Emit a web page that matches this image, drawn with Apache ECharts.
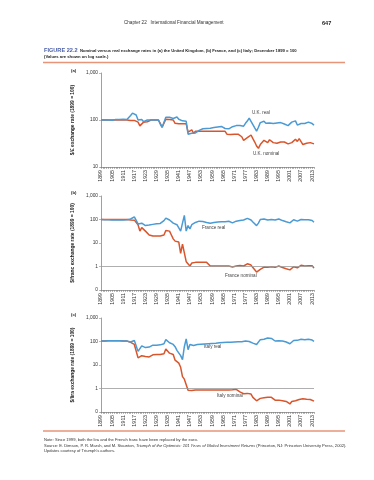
<!DOCTYPE html>
<html><head><meta charset="utf-8">
<script src="https://cdn.jsdelivr.net/npm/echarts@6/dist/echarts.min.js"></script>
<style>html,body{margin:0;padding:0;background:#fff}#c{width:374px;height:480px}</style>
</head><body><div id="c"></div>
<script>
// Years 1899..2014 (categories)
const years = [];
for (let y = 1899; y <= 2014; y++) years.push(String(y));

// (a) United Kingdom, $/£ (1899 = 100)
const ukReal = [100,
  102,101,100,100,101,99,101,103,102,103,
  102,104,103,102,104,125,140,138,128,100,
  98,102,92,98,100,100,100,100,100,100,
  100,82,70,72,115,112,114,112,108,110,
  116,104,98,96,95,94,50,46,52,48,
  53,56,60,62,65,66,66,67,67,68,
  69,70,71,72,73,74,66,64,65,70,
  72,73,76,74,76,80,74,85,95,110,
  105,80,68,58,70,88,82,94,85,80,
  86,86,84,90,86,86,88,87,82,80,
  76,80,90,84,96,78,82,84,86,84,
  86,90,88,84,78];
const ukNominal = [100,
  100,100,100,100,100,100,100,100,100,100,
  100,100,100,100,100,98,98,98,98,90,
  75,80,90,96,92,100,100,100,100,100,
  100,85,70,72,104,101,102,102,100,85,
  83,83,83,83,83,83,55,50,62,52,
  57.5,57.5,57.5,57.5,57.5,57.5,57.5,57.5,57.5,57.5,
  57.5,57.5,57.5,57.5,57.5,57.5,57.5,50,49,49,
  48,50,51,50,48,44,37,38,42,46,
  48,40,34,28,25,30,31,37,34,33,
  38,37,33,31,32,33,34,34,34,33,
  31,30,33,36,39,35,40,41,30,32,
  32,33,33,33,31];

// (b) France, $/franc (1899 = 100)
const franceReal = [100,
  99,98,97,97,96,96,95,95,95,96,
  96,96,97,97,98,105,118,130,120,65,
  55,70,62,55,48,58,60,62,64,66,
  67,68,70,90,115,105,95,80,70,62,
  60,55,32,70,150,32,55,40,60,70,
  75,82,85,84,82,80,75,68,70,72,
  74,76,78,80,80,82,80,82,84,70,
  72,76,85,95,90,100,95,105,112,100,
  95,78,65,55,70,100,95,105,90,95,
  108,100,110,95,100,105,102,90,88,80,
  68,72,85,98,92,85,92,100,105,98,
  100,98,100,90,76];
const franceNominal = [100,
  100,100,100,100,100,100,100,100,100,100,
  100,100,100,100,100,96,94,94,92,60,
  32,45,40,32,28,22,20,20,20,20,
  20,20,20,22,34,36,32,22,15,12,
  12,11,3.6,9,10,1.6,1.8,1.05,1.4,1.45,
  1.5,1.5,1.5,1.5,1.5,1.5,1.5,1.45,1.05,1.05,
  1.05,1.05,1.05,1.05,1.05,1.05,1.05,1.05,1.05,0.95,
  0.95,1.0,1.05,1.15,1.1,1.2,1.05,1.2,1.3,1.2,
  1.15,0.9,0.75,0.58,0.62,0.75,0.85,0.95,0.9,0.92,
  1.0,0.98,1.05,0.92,0.95,1.05,1.0,0.9,0.88,0.8,
  0.7,0.72,0.85,0.98,0.92,0.88,1.0,1.12,1.15,1.05,
  1.1,1.08,1.05,1.08,0.85];

// (c) Italy, $/lira (1899 = 100)
const italyReal = [105,
  106,106,107,107,108,107,107,108,108,107,
  107,106,106,104,100,95,98,110,132,38,
  45,65,60,55,55,58,62,70,70,70,
  72,72,75,80,120,110,88,95,75,60,
  42,35,25,17,60,130,45,75,65,68,
  72,74,75,76,77,78,79,80,81,82,
  83,84,86,88,90,90,90,92,93,94,
  95,96,98,97,90,98,95,105,110,100,
  95,85,80,75,90,120,115,125,130,140,
  145,135,115,105,110,108,115,105,102,95,
  85,80,95,110,105,112,120,125,122,118,
  120,125,120,115,102];
const italyNominal = [105,
  106,106,107,107,108,107,107,108,108,107,
  107,106,106,104,100,92,85,75,90,20,
  22,25,24,23,22,22,24,27,28,28,
  28,28,28,30,48,45,32,30,28,16,
  14,12,8,3.2,2.5,2.5,0.85,0.9,0.82,0.85,
  0.87,0.87,0.87,0.87,0.87,0.87,0.87,0.87,0.87,0.87,
  0.87,0.87,0.87,0.87,0.87,0.87,0.87,0.87,0.87,0.87,
  0.88,0.9,0.92,0.85,0.72,0.7,0.6,0.62,0.62,0.6,
  0.58,0.42,0.35,0.3,0.3,0.38,0.42,0.4,0.44,0.42,
  0.46,0.42,0.35,0.32,0.33,0.32,0.34,0.3,0.3,0.28,
  0.24,0.22,0.28,0.32,0.3,0.33,0.34,0.36,0.37,0.34,
  0.35,0.36,0.34,0.33,0.29];

// Y tick labels by decade exponent
const yTickLabels = {'-1': '0', '0': '1', '1': '10', '2': '100', '3': '1,000'};
const yNames = ['$/£ exchange rate (1899 = 100)', '$/franc exchange rate (1899 = 100)', '$/lira exchange rate (1899 = 100)'];
const seriesNames = ['U.K. real','U.K. nominal','France real','France nominal','Italy real','Italy nominal'];

const BLUE = '#4a9ad4', RED = '#d9552c';
const tops = [73, 196, 318];
const FONT = 'Liberation Sans, Arial, sans-serif';

const chart = echarts.init(document.getElementById('c'), null, {renderer: 'canvas'});

const grids = tops.map(t => ({left: 101, top: t, width: 213, height: 94}));
const xAxes = tops.map((t, i) => ({
  type: 'category', gridIndex: i, data: years, boundaryGap: false,
  axisLine: {lineStyle: {color: '#777', width: 0.7}},
  axisTick: {interval: 0, length: 2, lineStyle: {color: '#777', width: 0.5}},
  axisLabel: {interval: 5, rotate: 90, fontSize: 5.3, color: '#333', margin: 3, fontFamily: FONT}
}));
const yAxes = tops.map((t, i) => ({
  type: 'log', logBase: 10, gridIndex: i,
  min: i === 0 ? 10 : 0.1, max: 1000, splitNumber: i === 0 ? 2 : 4,
  name: yNames[i], nameLocation: 'middle', nameGap: 16, nameRotate: 90,
  nameTextStyle: {fontSize: 4.9, fontWeight: 'bold', color: '#222', fontFamily: FONT},
  axisLine: {show: true, lineStyle: {color: '#777', width: 0.7}},
  axisTick: {show: true, length: 2, lineStyle: {color: '#777', width: 0.5}},
  splitLine: {show: false},
  minorTick: {show: false},
  axisLabel: {fontSize: 4.8, color: '#333', margin: 3, fontFamily: FONT,
    formatter: v => yTickLabels[String(Math.round(Math.log10(v)))] || ''}
}));

const ref1 = {silent: true, symbol: 'none', label: {show: false},
  lineStyle: {color: '#9a9a9a', width: 0.8, type: 'solid'}, data: [{yAxis: 1}]};

function line(name, data, idx, color, withRef) {
  const s = {type: 'line', name, data, xAxisIndex: idx, yAxisIndex: idx,
    showSymbol: false, symbol: 'none', lineStyle: {color, width: 1.5}, itemStyle: {color}, z: color === BLUE ? 3 : 2};
  if (withRef) s.markLine = ref1;
  return s;
}

const series = [
  line(seriesNames[1], ukNominal, 0, RED, false),
  line(seriesNames[0], ukReal, 0, BLUE, false),
  line(seriesNames[3], franceNominal, 1, RED, true),
  line(seriesNames[2], franceReal, 1, BLUE, false),
  line(seriesNames[5], italyNominal, 2, RED, true),
  line(seriesNames[4], italyReal, 2, BLUE, false)
];

function txt(x, y, text, size, opts) {
  return {type: 'text', x, y, style: Object.assign({text, fontSize: size, fontFamily: FONT,
    fill: '#333', verticalAlign: 'middle'}, (opts && opts.style) || {})};
}

const graphic = [
  txt(124, 23, 'Chapter 22   International Financial Management', 4.6, {style: {fill: '#333'}}),
  txt(322, 23, '647', 5.6, {style: {fontWeight: 'bold', fill: '#222'}}),
  {type: 'text', x: 44, y: 50.5, style: {verticalAlign: 'middle', fontFamily: FONT,
    rich: {
      f: {fontSize: 5.6, fontWeight: 'bold', fill: '#4a5ea6', fontFamily: FONT},
      t: {fontSize: 4.2, fontWeight: 'bold', fill: '#222', fontFamily: FONT}
    },
    text: '{f|FIGURE 22.2}{t|  Nominal versus real exchange rates in (a) the United Kingdom, (b) France, and (c) Italy; December 1899 = 100}'}},
  txt(44, 56.5, '(Values are shown on log scale.)', 4.2, {style: {fontWeight: 'bold', fill: '#222'}}),
  {type: 'line', shape: {x1: 43, y1: 62.5, x2: 345, y2: 62.5}, style: {stroke: '#e89478', lineWidth: 1.4}},
  {type: 'line', shape: {x1: 43, y1: 431, x2: 345, y2: 431}, style: {stroke: '#e89478', lineWidth: 1.4}},
  txt(71, 71, '(a)', 4.2, {style: {fontWeight: 'bold', fill: '#222'}}),
  txt(71, 193, '(b)', 4.2, {style: {fontWeight: 'bold', fill: '#222'}}),
  txt(71, 315, '(c)', 4.2, {style: {fontWeight: 'bold', fill: '#222'}}),
  txt(252, 113, seriesNames[0], 4.6, {style: {fill: '#444'}}),
  txt(253, 154, seriesNames[1], 4.6, {style: {fill: '#444'}}),
  txt(202, 228, seriesNames[2], 4.6, {style: {fill: '#444'}}),
  txt(225, 276, seriesNames[3], 4.6, {style: {fill: '#444'}}),
  txt(204, 347, seriesNames[4], 4.6, {style: {fill: '#444'}}),
  txt(217, 396, seriesNames[5], 4.6, {style: {fill: '#444'}}),
  txt(44, 440, 'Note: Since 1999, both the lira and the French franc have been replaced by the euro.', 4.1, {style: {fill: '#333'}}),
  {type: 'text', x: 44, y: 445.7, style: {verticalAlign: 'middle', fontFamily: FONT,
    rich: {
      n: {fontSize: 4.1, fill: '#333', fontFamily: FONT},
      i: {fontSize: 4.1, fill: '#333', fontStyle: 'italic', fontFamily: FONT}
    },
    text: '{n|Source: E. Dimson, P. R. Marsh, and M. Staunton, }{i|Triumph of the Optimists: 101 Years of Global Investment Returns}{n| (Princeton, NJ: Princeton University Press, 2002).}'}},
  txt(44, 451.3, 'Updates courtesy of Triumph\'s authors.', 4.1, {style: {fill: '#333'}})
];

chart.setOption({
  animation: false,
  backgroundColor: '#fff',
  textStyle: {fontFamily: FONT},
  grid: grids, xAxis: xAxes, yAxis: yAxes, series, graphic
});
</script></body></html>
